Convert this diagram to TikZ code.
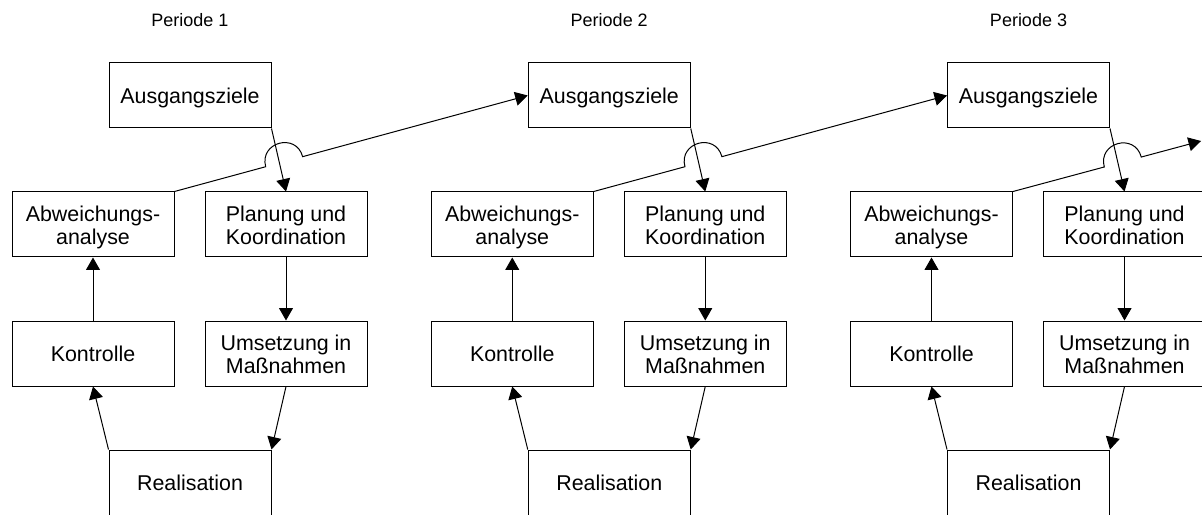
\documentclass[tikz,border=0pt]{standalone}
\usepackage{fontspec}
\setmainfont{Liberation Sans}
\usetikzlibrary{arrows.meta,calc}
\begin{document}
\begin{tikzpicture}[x=0.5pt,y=0.5pt,
  box/.style={draw,line width=0.5pt,minimum width=81pt,minimum height=32.5pt,
    inner sep=0pt,align=center,font=\fontsize{10.7}{11.65}\selectfont,
    text height=8.2pt,text depth=0pt},
  box2/.style={box,text height=20.4pt,text depth=0pt},
  period/.style={font=\fontsize{9}{10}\selectfont},
  flow/.style={line width=0.5pt,-{Triangle[length=6.25pt,width=7pt]}},
]
\clip (0,0) rectangle (1202,514);
% three planning periods, side by side
\foreach \k/\ox in {1/0,2/419.25,3/838.5}{
  \node[period] (per\k) at (\ox+190,494) {Periode \k};
  \node[box]  (aus\k)  at (\ox+190,418.5) {Ausgangsziele};
  \node[box2] (abw\k)  at (\ox+93,289.5)  {Abweichungs-\\analyse};
  \node[box2] (plan\k) at (\ox+286,289.5) {Planung und\\Koordination};
  \node[box]  (kon\k)  at (\ox+93,160.5)  {Kontrolle};
  \node[box2] (ums\k)  at (\ox+286,160.5) {Umsetzung in\\Maßnahmen};
  \node[box]  (real\k) at (\ox+190,31.5)  {Realisation};
  \draw[flow] (aus\k.south east) -- (plan\k.north);
  \draw[flow] (plan\k.south) -- (ums\k.north);
  \draw[flow] (ums\k.south) -- (real\k.north east);
  \draw[flow] (real\k.north west) -- (kon\k.south);
  \draw[flow] (kon\k.north) -- (abw\k.south);
}
% feedback into the next period, hopping over the planning arrow
\coordinate (next) at (1201,373);
\foreach \k/\t in {1/aus2.west,2/aus3.west,3/next}{
  \draw[flow] (abw\k.north east)
    -- ($(abw\k.north east)!47.25pt!(\t)$)
    to[out=105,in=105,looseness=1.7] ($(abw\k.north east)!66.4pt!(\t)$)
    -- (\t);
}
\end{tikzpicture}
\end{document}
